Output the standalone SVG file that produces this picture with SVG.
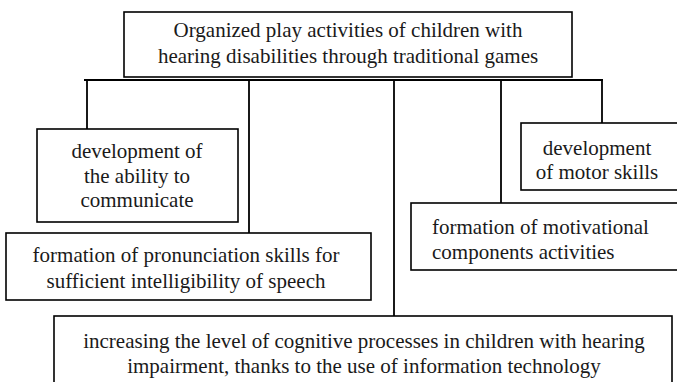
<svg xmlns="http://www.w3.org/2000/svg" width="677" height="382" viewBox="0 0 677 382">
<style>
.box{fill:#fff;stroke:#000;stroke-width:1.6}
.t{font-family:"Liberation Serif","DejaVu Serif",serif;font-size:21px;fill:#1a1a1a}
.c{text-anchor:middle}
.ln{stroke:#000;stroke-width:1.8;fill:none}
</style>
<rect width="677" height="382" fill="#fff"/>
<g id="connectors">
<line class="ln" x1="84" y1="80" x2="603" y2="80"/>
<line class="ln" x1="87" y1="80" x2="87" y2="129"/>
<line class="ln" x1="249" y1="80" x2="249" y2="233"/>
<line class="ln" x1="394" y1="80" x2="394" y2="316"/>
<line class="ln" x1="501" y1="80" x2="501" y2="203"/>
<line class="ln" x1="602" y1="80" x2="602" y2="123"/>
</g>
<g class="t" font-family="Liberation Serif, DejaVu Serif, serif">
<g id="root">
<rect class="box" x="124" y="12" width="448" height="65"/>
<text class="c" x="348" y="37">Organized play activities of children with</text>
<text class="c" x="348" y="63">hearing disabilities through traditional games</text>
</g>
<g id="communicate">
<rect class="box" x="37" y="129" width="201" height="93"/>
<text class="c" x="137" y="158">development of</text>
<text class="c" x="137" y="183">the ability to</text>
<text class="c" x="137" y="207">communicate</text>
</g>
<g id="pronunciation">
<rect class="box" x="6" y="233" width="365" height="67"/>
<text class="c" x="186" y="262">formation of pronunciation skills for</text>
<text class="c" x="186" y="288">sufficient intelligibility of speech</text>
</g>
<g id="motor">
<rect class="box" x="521" y="123" width="170" height="67"/>
<text class="c" x="597" y="155">development</text>
<text class="c" x="597" y="179">of motor skills</text>
</g>
<g id="motivational">
<rect class="box" x="411" y="203" width="280" height="67"/>
<text x="432" y="234">formation of motivational</text>
<text x="432" y="259">components activities</text>
</g>
<g id="cognitive">
<rect class="box" x="54" y="316" width="618" height="80"/>
<text class="c" x="364" y="348">increasing the level of cognitive processes in children with hearing</text>
<text class="c" x="364" y="373">impairment, thanks to the use of information technology</text>
</g>
</g>
</svg>
